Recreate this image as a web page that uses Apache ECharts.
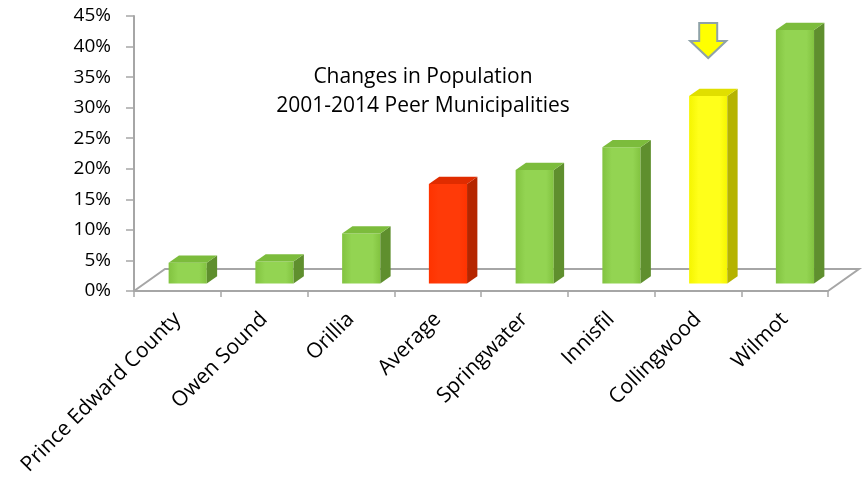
<!DOCTYPE html>
<html>
<head>
<meta charset="utf-8">
<script src="https://cdn.jsdelivr.net/npm/echarts@6/dist/echarts.min.js"></script>
<style>
  html, body { margin: 0; padding: 0; background: #fff; }
  #chart { width: 865px; height: 478px; }
</style>
</head>
<body>
<div id="chart"></div>
<script>
// Population change 2001-2014, peer municipalities
const municipalities = ['Prince Edward County', 'Owen Sound', 'Orillia', 'Average',
  'Springwater', 'Innisfil', 'Collingwood', 'Wilmot'];
const populationChange = [0.034, 0.036, 0.082, 0.163, 0.186, 0.223, 0.307, 0.415];
const valueTicks = [0, 0.05, 0.10, 0.15, 0.20, 0.25, 0.30, 0.35, 0.40, 0.45];
const averageLabel = 'Average';
const focusLabel = 'Collingwood';

const FONT = '"Open Sans", "Liberation Sans", sans-serif';

// face colours: front / side / top
const palette = {
  normal: { front: ['#93d452', '#82c340'], side: '#5f8f2e', top: '#7cbc3c' },
  average: { front: ['#ff3a08', '#ff3300'], side: '#b52600', top: '#e02c00' },
  focus: { front: ['#ffff1a', '#f5f500'], side: '#b5b300', top: '#e0df00' }
};

// oblique depth of the floor (pixels)
const DEPTH_X = 31, DEPTH_Y = -22;

function faceSet(name) {
  if (name === averageLabel) return palette.average;
  if (name === focusLabel) return palette.focus;
  return palette.normal;
}

function renderBar(params, api) {
  const idx = api.value(0);
  const v = api.value(1);
  const name = municipalities[idx];
  const base = api.coord([idx, 0]);
  const top = api.coord([idx, v]);
  const band = api.size([1, 0])[0];
  const w = band * 0.44;
  const dx = DEPTH_X / 3, dy = DEPTH_Y / 3;
  const x0 = base[0] - w / 2 + dx;
  const yB = base[1] + dy;
  const yT = top[1] + dy;
  const c = faceSet(name);
  const children = [
    {
      type: 'rect',
      shape: { x: x0, y: yT, width: w, height: yB - yT },
      style: {
        fill: new echarts.graphic.LinearGradient(0, 0, 1, 0, [
          { offset: 0, color: c.front[1] },
          { offset: 0.25, color: c.front[0] },
          { offset: 0.8, color: c.front[0] },
          { offset: 1, color: c.front[1] }
        ])
      }
    },
    {
      type: 'polygon',
      shape: { points: [[x0 + w, yT], [x0 + w + dx, yT + dy], [x0 + w + dx, yB + dy], [x0 + w, yB]] },
      style: { fill: c.side }
    },
    {
      type: 'polygon',
      shape: { points: [[x0, yT], [x0 + w, yT], [x0 + w + dx, yT + dy], [x0 + dx, yT + dy]] },
      style: { fill: c.top }
    }
  ];
  if (name === focusLabel) {
    // pointer arrow above the highlighted municipality
    const ax = x0 + w / 2;
    const tip = yT - 38;
    children.push({
      type: 'polygon',
      shape: {
        points: [[ax - 9, tip - 35], [ax + 9, tip - 35], [ax + 9, tip - 17], [ax + 18, tip - 17],
          [ax, tip], [ax - 18, tip - 17], [ax - 9, tip - 17]]
      },
      style: { fill: '#ffff00', stroke: '#8fa2a8', lineWidth: 2, lineJoin: 'miter' }
    });
  }
  return { type: 'group', children };
}

function renderFloor(params, api) {
  if (params.dataIndex !== 0) return null;
  const cs = params.coordSys;
  const xL = cs.x, xR = cs.x + cs.width, y = cs.y + cs.height;
  const stroke = { stroke: '#a6a6a6', lineWidth: 2, fill: null };
  return {
    type: 'group',
    children: [
      { type: 'polyline', shape: { points: [[xL, y], [xL + DEPTH_X, y + DEPTH_Y], [xR + DEPTH_X, y + DEPTH_Y], [xR, y]] }, style: stroke }
    ]
  };
}

const chart = echarts.init(document.getElementById('chart'), null, { renderer: 'canvas' });

chart.setOption({
  backgroundColor: '#ffffff',
  animation: false,
  title: {
    text: 'Changes in Population\n2001-2014 Peer Municipalities',
    left: 418,
    top: 58,
    textAlign: 'center',
    textStyle: { fontFamily: FONT, fontSize: 21, fontWeight: 'normal', color: '#000', lineHeight: 29 }
  },
  grid: { left: 134, right: 37, top: 16, bottom: 187, containLabel: false },
  xAxis: {
    type: 'category',
    data: municipalities,
    axisLine: { show: true, lineStyle: { color: '#a6a6a6', width: 2 } },
    axisTick: { show: true, length: 6, lineStyle: { color: '#a6a6a6', width: 1.5 } },
    axisLabel: {
      interval: 0, rotate: 45, margin: 25,
      fontFamily: FONT, fontSize: 21, color: '#000'
    }
  },
  yAxis: {
    type: 'value',
    min: valueTicks[0],
    max: valueTicks[valueTicks.length - 1],
    interval: valueTicks[1] - valueTicks[0],
    splitLine: { show: false },
    axisLine: { show: true, lineStyle: { color: '#a6a6a6', width: 2 } },
    axisTick: { show: true, length: 8, lineStyle: { color: '#a6a6a6', width: 1.5 } },
    axisLabel: {
      margin: 23, fontFamily: FONT, fontSize: 19, color: '#000',
      formatter: v => Math.round(v * 100) + '%'
    }
  },
  series: [
    {
      type: 'custom',
      name: 'floor',
      renderItem: renderFloor,
      data: [[0, 0]],
      silent: true,
      z: 1
    },
    {
      type: 'custom',
      name: 'Population change',
      renderItem: renderBar,
      encode: { x: 0, y: 1 },
      data: populationChange.map((v, i) => [i, v]),
      z: 2
    }
  ]
});
</script>
</body>
</html>
